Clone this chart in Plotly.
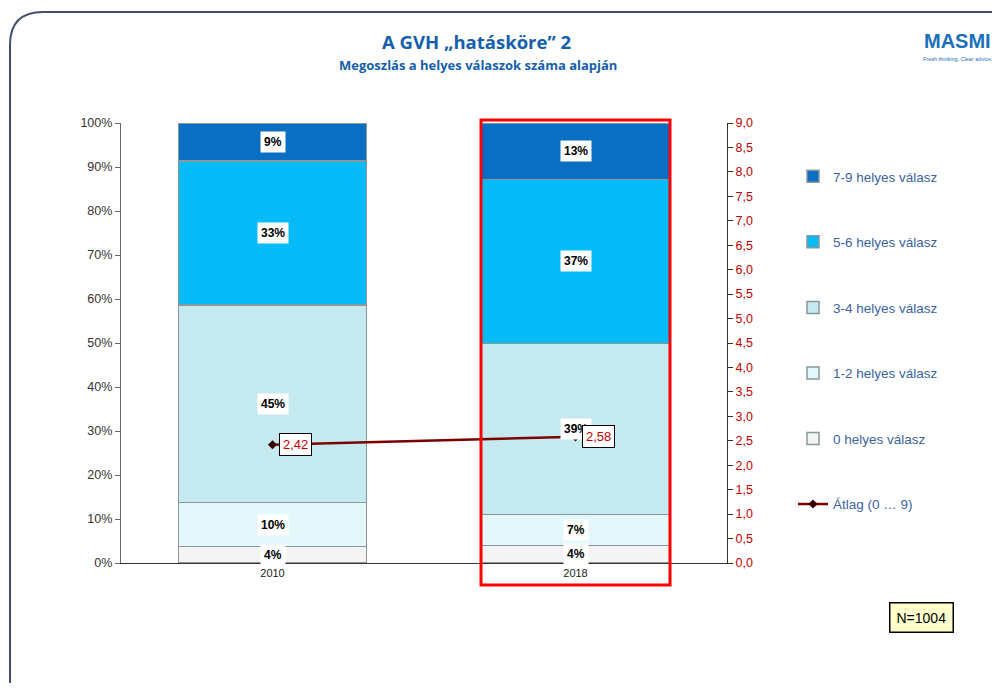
import plotly.graph_objects as go

years = ["2010", "2018"]
groups = ["0 helyes válasz", "1-2 helyes válasz", "3-4 helyes válasz",
          "5-6 helyes válasz", "7-9 helyes válasz"]
share_0 = [3.8, 4.0]
share_1_2 = [9.9, 7.0]
share_3_4 = [44.9, 38.9]
share_5_6 = [32.8, 37.3]
share_7_9 = [8.6, 12.8]
avg_score = [2.42, 2.58]
avg_labels = ["2,42", "2,58"]

colors = ["#F4F4F4", "#E4F8FC", "#C4E9EE", "#05BCF9", "#0A6FC2"]
series = [share_0, share_1_2, share_3_4, share_5_6, share_7_9]

fig = go.Figure()

for k, (name, vals, col) in enumerate(zip(groups, series, colors)):
    fig.add_trace(go.Bar(
        x=years, y=vals, name=name, marker_color=col,
        marker_line=dict(color="#8A989C", width=1.5),
        legendgroup=name, legendrank=5 - k, hoverinfo="name+y"))

fig.add_trace(go.Scatter(
    x=years, y=avg_score, name="Átlag (0 … 9)", yaxis="y2",
    mode="lines+markers", line=dict(color="#7B0000", width=2.5),
    marker=dict(symbol="diamond", size=7, color="#3A0000"),
    legendgroup="avg", legendrank=6))

# percentage labels in the middle of each segment (x = category index)
for i in range(len(years)):
    base = 0
    for vals in series:
        v = vals[i]
        fig.add_annotation(x=i, y=base + v / 2, xref="x", yref="y",
                           text=f"<b>{round(v)}%</b>", showarrow=False,
                           bgcolor="white", font=dict(size=12, color="black"),
                           borderpad=3)
        base += v

# average value labels
for i, (v, lab) in enumerate(zip(avg_score, avg_labels)):
    fig.add_annotation(x=i, y=v, xref="x", yref="y2", text=lab,
                       showarrow=False, xanchor="left", xshift=6,
                       bgcolor="white", bordercolor="black", borderwidth=1,
                       borderpad=3, font=dict(size=13, color="#C00000"))

# figure sits 8px inside the page (body margin); keep it inside the window
W, H = 984, 675
L, R, T, B = 113, 265, 115, 120
pw, ph = W - L - R, H - T - B


def px(x):  # page pixel -> paper
    return (x - 8 - L) / pw


def py(y):
    return (H - B - (y - 8)) / ph


def note(x, y, text, **kw):
    fig.add_annotation(xref="paper", yref="paper", x=px(x), y=py(y),
                       xanchor="center", yanchor="middle", text=text,
                       showarrow=False, **kw)


# red highlight frame around 2018
fig.add_shape(type="rect", xref="paper", yref="paper",
              x0=px(481), x1=px(670), y0=py(585), y1=py(120),
              line=dict(color="#FF0000", width=3))

# outer rounded frame
path = (f"M {px(10)},{py(700)} L {px(10)},{py(45)} "
        f"Q {px(10)},{py(12)} {px(43)},{py(12)} L {px(1010)},{py(12)}")
fig.add_shape(type="path", xref="paper", yref="paper", path=path,
              line=dict(color="#3E4F73", width=2))

note(921, 617, "N=1004", bgcolor="#FFFFCC", bordercolor="black",
     borderwidth=1.5, borderpad=6, font=dict(size=14, color="black"))
note(476, 41, "<b>A GVH „hatásköre” 2</b>",
     font=dict(family="Open Sans", size=18.5, color="#1560AC"))
note(478, 65, "<b>Megoszlás a helyes válaszok száma alapján</b>",
     font=dict(family="Open Sans", size=13, color="#1560AC"))
note(958, 41, "<b>MASMI</b>",
     font=dict(family="Liberation Sans", size=20, color="#1A6FB8"))
note(958, 59, "Fresh thinking. Clear advice.",
     font=dict(family="Liberation Sans", size=5.5, color="#1A6FB8"))

fig.update_layout(
    width=W, height=H, barmode="stack", bargap=0.38,
    separators=", ",
    margin=dict(l=L, r=R, t=T, b=B),
    paper_bgcolor="white", plot_bgcolor="white",
    font=dict(family="Liberation Sans", size=12, color="#222222"),
    xaxis=dict(type="category", range=[-0.5, 1.5], showline=True,
               linecolor="#333333", linewidth=1.2, ticks="",
               tickfont=dict(size=11, color="#222222")),
    yaxis=dict(range=[0, 100], dtick=10, ticksuffix="%", showgrid=False,
               showline=True, linecolor="#666666", linewidth=1.2,
               ticks="outside", ticklen=5, tickcolor="#666666",
               tickfont=dict(size=12.5, color="#333333"), zeroline=False),
    yaxis2=dict(range=[0, 9], dtick=0.5, tickformat=".1f", overlaying="y",
                side="right", showgrid=False, showline=True,
                linecolor="#333333", linewidth=1.2, ticks="outside",
                ticklen=5, tickcolor="#333333", zeroline=False,
                tickfont=dict(size=12.5, color="#C00000")),
    legend=dict(x=px(793), y=py(161), xanchor="left", yanchor="top",
                traceorder="grouped", tracegroupgap=45,
                font=dict(size=13.5, color="#3A64A0"), bgcolor="rgba(0,0,0,0)"),
)

fig.write_html("out.html")
